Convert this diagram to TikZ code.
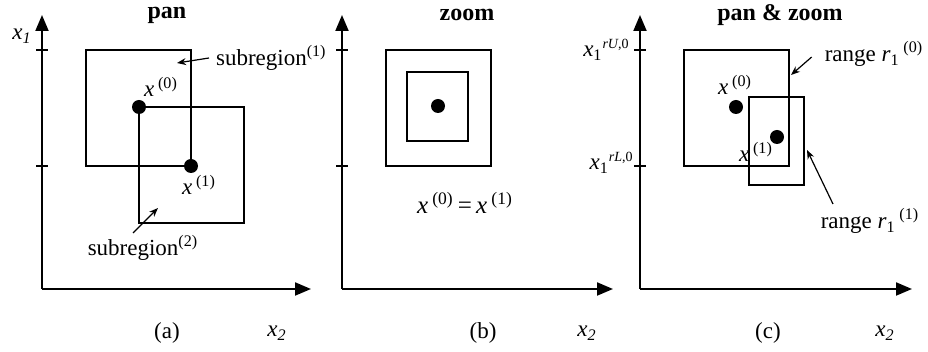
\documentclass[tikz,border=0pt]{standalone}
\usepackage{fontspec}
\setmainfont{Liberation Serif}
\usetikzlibrary{arrows.meta,positioning}
\newcommand{\xit}[1]{\textit{x}\,\textsuperscript{(#1)}}
\newcommand{\rng}[1]{range \textit{r}\textsubscript{1}\,\textsuperscript{(#1)}}

\tikzset{
  axis/.style={line width=1pt,-{Triangle[length=8pt,width=6.5pt]}},
  region/.style={draw,line width=0.8pt},
  dot/.style={circle,fill,inner sep=0pt,minimum size=7pt},
  pointer/.style={line width=0.6pt,-{Stealth[length=4.5pt,width=3.5pt]}},
  title/.style={font=\bfseries\fontsize{12}{14}\selectfont},
  tick/.style={line width=0.8pt},
}

\begin{document}
\begin{tikzpicture}[x=0.5pt,y=-0.5pt,font=\fontsize{11.5}{13}\selectfont]
\useasboundingbox (0,0) rectangle (928,352);

% panel (a): pan
\coordinate (oa) at (42,289);
\coordinate (ya) at (42,15);
\coordinate (xa) at (311,289);
\draw[axis] (oa) -- (ya);
\draw[axis] (oa) -- (xa);
\foreach \y in {50,166} \draw[tick] (36,\y) -- (48,\y);
\draw[region] (86,50) rectangle (191,166);
\draw[region] (139,107) rectangle (244,223);
\node[dot] (a0) at (139,107) {};
\node[dot] (a1) at (191,166) {};
\node[title] (pan) at (167,15) {pan};
\node (x1a) at (22,36) {\textit{x}\textsubscript{\textit{1}}};
\node[anchor=west] (sub1) at (209,58) {subregion\textsuperscript{(1)}};
\node (lx0a) at (161,87) {\xit{0}};
\node (lx1a) at (199,185) {\xit{1}};
\node (sub2) at (143,248) {subregion\textsuperscript{(2)}};
\coordinate (s1tip) at (177,63);
\coordinate (s2tip) at (158,208);
\draw[pointer] (sub1.west) -- (s1tip);
\draw[pointer] (133,233) -- (s2tip);
\node (capa) at (167,333) {(a)};
\node (x2a) at (277,333) {\textit{x}\textsubscript{\textit{2}}};

% panel (b): zoom
\coordinate (ob) at (342,289);
\coordinate (yb) at (342,15);
\coordinate (xb) at (613,289);
\draw[axis] (ob) -- (yb);
\draw[axis] (ob) -- (xb);
\foreach \y in {50,166} \draw[tick] (336,\y) -- (348,\y);
\draw[region] (386,50) rectangle (491,166);
\draw[region] (407,72) rectangle (468,141);
\node[dot] (b0) at (438,106) {};
\node[title] (zoom) at (467,15) {zoom};
\node[font=\fontsize{12.5}{14}\selectfont] (lxb) at (465,203) {\xit{0}\,=\,\xit{1}};
\node (capb) at (483,333) {(b)};
\node (x2b) at (587,333) {\textit{x}\textsubscript{\textit{2}}};

% panel (c): pan & zoom
\coordinate (oc) at (640,289);
\coordinate (yc) at (640,15);
\coordinate (xc) at (912,289);
\draw[axis] (oc) -- (yc);
\draw[axis] (oc) -- (xc);
\foreach \y in {50,166} \draw[tick] (634,\y) -- (646,\y);
\draw[region] (684,50) rectangle (789,166);
\draw[region] (749,97) rectangle (804,185);
\node[dot] (c0) at (736,107) {};
\node[dot] (c1) at (777,137) {};
\node[title] (panzoom) at (780,15) {pan \& zoom};
\node[anchor=base east,inner sep=1pt] (xu) at (632,57)
  {\textit{x}\textsubscript{1}\textsuperscript{\scriptsize\textit{rU},0}};
\node[anchor=base east,inner sep=1pt] (xl) at (636,170)
  {\textit{x}\textsubscript{1}\textsuperscript{\scriptsize\textit{rL},0}};
\node (lx0c) at (735,85) {\xit{0}};
\node (lx1c) at (756,152) {\xit{1}};
\node (r0) at (874,54) {\rng{0}};
\node (r1) at (870,221) {\rng{1}};
\coordinate (r0tip) at (791,75);
\coordinate (r1tip) at (807,150);
\draw[pointer] (r0.west) ++(-6,3) -- (r0tip);
\draw[pointer] (833,204) -- (r1tip);
\node (capc) at (768,333) {(c)};
\node (x2c) at (885,333) {\textit{x}\textsubscript{\textit{2}}};
\end{tikzpicture}
\end{document}
